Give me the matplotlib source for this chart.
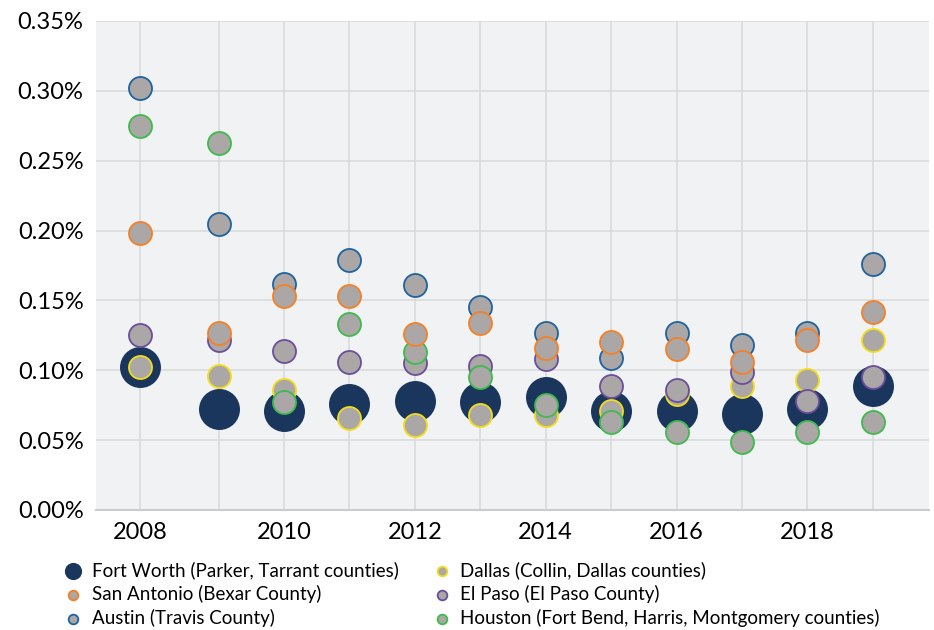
import numpy as np
import matplotlib.pyplot as plt
from matplotlib.ticker import FuncFormatter, MultipleLocator

plt.rcParams['font.family'] = ['Lato', 'DejaVu Sans']

years = [2008, 2009, 2010, 2011, 2012, 2013, 2014, 2015, 2016, 2017, 2018, 2019]

# rates in percent
fort_worth = [0.102, 0.072, 0.071, 0.076, 0.078, 0.077, 0.081, 0.071, 0.071, 0.069, 0.072, 0.089]
san_antonio = [0.198, 0.127, 0.153, 0.153, 0.126, 0.134, 0.116, 0.120, 0.115, 0.106, 0.122, 0.142]
austin = [0.302, 0.205, 0.162, 0.179, 0.161, 0.145, 0.127, 0.109, 0.127, 0.118, 0.127, 0.176]
dallas = [0.102, 0.096, 0.086, 0.066, 0.061, 0.068, 0.068, 0.071, 0.083, 0.089, 0.093, 0.122]
el_paso = [0.125, 0.122, 0.114, 0.106, 0.105, 0.103, 0.108, 0.089, 0.086, 0.099, 0.078, 0.095]
houston = [0.275, 0.263, 0.077, 0.133, 0.113, 0.095, 0.075, 0.063, 0.056, 0.049, 0.056, 0.063]

labels = ['Fort Worth (Parker, Tarrant counties)',
          'San Antonio (Bexar County)',
          'Austin (Travis County)',
          'Dallas (Collin, Dallas counties)',
          'El Paso (El Paso County)',
          'Houston (Fort Bend, Harris, Montgomery counties)']

navy = '#1b365d'
fill = '#aba7a6'
edges = {'San Antonio': '#f58025', 'Austin': '#1f62a0', 'Dallas': '#f2dd1a',
         'El Paso': '#6b4e9b', 'Houston': '#3dbb4c'}

# the first year is drawn slightly wider than the rest
stretch = 1.2


def fwd(x):
    x = np.asarray(x, dtype=float)
    return np.where(x < 2009, 2009 - (2009 - x) * stretch, x)


def inv(u):
    u = np.asarray(u, dtype=float)
    return np.where(u < 2009, 2009 - (2009 - u) / stretch, u)


fig = plt.figure(figsize=(9.34, 6.30), dpi=100)
ax = fig.add_axes([0.1028, 0.1905, 0.892, 0.7762])
ax.set_xscale('function', functions=(fwd, inv))
ax.set_facecolor('#f0f2f4')

small = 275
ax.scatter(years, fort_worth, s=870, color=navy, linewidths=0, zorder=3, label=labels[0])
series = [(san_antonio, 'San Antonio', labels[1], 8),
          (austin, 'Austin', labels[2], 4),
          (dallas, 'Dallas', labels[3], 5),
          (el_paso, 'El Paso', labels[4], 6),
          (houston, 'Houston', labels[5], 7)]
for vals, key, lab, z in series:
    ax.scatter(years, vals, s=small, color=fill, edgecolors=edges[key],
               linewidths=1.3, zorder=z, label=lab)

ax.set_ylim(0, 0.35)
ax.set_xlim(2007.44, 2019.86)
ax.yaxis.set_major_locator(MultipleLocator(0.05))
ax.yaxis.set_major_formatter(FuncFormatter(lambda v, p: f'{v:.2f}%'))
ax.set_xticks([2008, 2010, 2012, 2014, 2016, 2018])
ax.set_xticks(years, minor=True)
ax.xaxis.set_major_formatter(FuncFormatter(lambda v, p: f'{int(round(v))}'))

ax.grid(True, which='both', color='#dadada', linewidth=1.2, zorder=0)
ax.set_axisbelow(True)
for side in ['top', 'right', 'left']:
    ax.spines[side].set_visible(False)
ax.spines['bottom'].set_color('#cccccc')
ax.spines['bottom'].set_linewidth(1.5)
ax.tick_params(axis='both', which='both', length=0, labelsize=17, pad=9)

fig.legend(loc='upper left', bbox_to_anchor=(0.060, 0.121), ncol=2, frameon=False,
           fontsize=13.5, markerscale=0.42, handlelength=1.0, handletextpad=0.5,
           columnspacing=1.8, labelspacing=0.3, borderaxespad=0)

fig.savefig('out.png', dpi=100)
